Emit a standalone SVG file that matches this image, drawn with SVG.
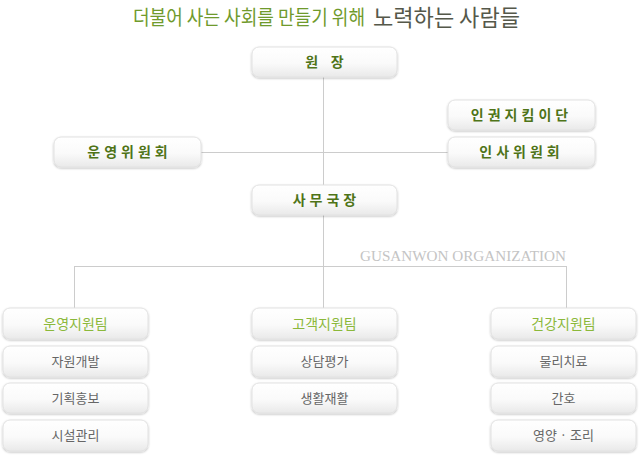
<svg xmlns="http://www.w3.org/2000/svg" width="640" height="457" viewBox="0 0 640 457">
<defs>
<linearGradient id="g" x1="0" y1="0" x2="0" y2="1">
<stop offset="0" stop-color="#ffffff"/>
<stop offset="0.55" stop-color="#fafafa"/>
<stop offset="1" stop-color="#e9e9e9"/>
</linearGradient>
<filter id="sh" x="-10%" y="-20%" width="120%" height="150%">
<feGaussianBlur in="SourceAlpha" stdDeviation="1.2"/>
<feOffset dx="0" dy="1" result="b"/>
<feComponentTransfer><feFuncA type="linear" slope="0.25"/></feComponentTransfer>
<feMerge><feMergeNode/><feMergeNode in="SourceGraphic"/></feMerge>
</filter>
</defs>
<style>
.box{fill:url(#g);stroke:#e2e2e2;stroke-width:1;filter:url(#sh)}
.t1{font-family:"Noto Sans CJK KR","Noto Sans",sans-serif;font-size:14px;font-weight:bold;fill:#4f7418;text-anchor:middle}
.t2{font-family:"Noto Sans CJK KR","Noto Sans",sans-serif;font-size:14px;fill:#8bb83a;text-anchor:middle}
.t3{font-family:"Noto Sans CJK KR","Noto Sans",sans-serif;font-size:13px;fill:#666666;text-anchor:middle}
.ln{stroke:#cccccc;stroke-width:1;fill:none}
</style>
<rect width="640" height="457" fill="#ffffff"/>
<g id="title">
<text x="133" y="25" font-family="'Noto Sans CJK KR',sans-serif" font-size="20" fill="#6f9a2c" textLength="232" lengthAdjust="spacingAndGlyphs">더불어 사는 사회를 만들기 위해</text>
<text x="373" y="26" font-family="'Noto Sans CJK KR',sans-serif" font-size="23" fill="#55584a" textLength="147" lengthAdjust="spacingAndGlyphs">노력하는 사람들</text>
</g>
<g id="connectors">
<line class="ln" x1="323.5" y1="77" x2="323.5" y2="185"/>
<line class="ln" x1="201" y1="152.5" x2="448" y2="152.5"/>
<line class="ln" x1="323.5" y1="215" x2="323.5" y2="308"/>
<line class="ln" x1="74.5" y1="266.5" x2="566.5" y2="266.5"/>
<line class="ln" x1="74.5" y1="266" x2="74.5" y2="308"/>
<line class="ln" x1="566.5" y1="266" x2="566.5" y2="308"/>
</g>
<text id="org" x="360" y="261" font-family="'Liberation Serif',serif" font-size="15" fill="#c4c4c4" textLength="206" lengthAdjust="spacingAndGlyphs">GUSANWON ORGANIZATION</text>
<g id="n-director"><rect class="box" x="252" y="47" width="145" height="30" rx="7"/><text class="t1" x="324.5" y="67" xml:space="preserve">원    장</text></g>
<g id="n-rights"><rect class="box" x="448" y="100" width="147" height="30" rx="7"/><text class="t1" x="521.5" y="120" letter-spacing="4">인권지킴이단</text></g>
<g id="n-personnel"><rect class="box" x="448" y="137" width="147" height="30" rx="7"/><text class="t1" x="521.5" y="157" letter-spacing="4">인사위원회</text></g>
<g id="n-operation"><rect class="box" x="54" y="137" width="147" height="30" rx="7"/><text class="t1" x="129.5" y="157" letter-spacing="4">운영위원회</text></g>
<g id="n-secretary"><rect class="box" x="252" y="185" width="145" height="30" rx="7"/><text class="t1" x="326.5" y="205" letter-spacing="4">사무국장</text></g>
<g id="n-team1"><rect class="box" x="3" y="308" width="145" height="31" rx="7"/><text class="t2" x="75.5" y="329">운영지원팀</text></g>
<g id="n-t1a"><rect class="box" x="3" y="346" width="145" height="31" rx="7"/><text class="t3" x="75.5" y="366">자원개발</text></g>
<g id="n-t1b"><rect class="box" x="3" y="383" width="145" height="30" rx="7"/><text class="t3" x="75.5" y="403">기획홍보</text></g>
<g id="n-t1c"><rect class="box" x="3" y="420" width="145" height="31" rx="7"/><text class="t3" x="75.5" y="440">시설관리</text></g>
<g id="n-team2"><rect class="box" x="252" y="308" width="145" height="31" rx="7"/><text class="t2" x="324.5" y="329">고객지원팀</text></g>
<g id="n-t2a"><rect class="box" x="252" y="346" width="145" height="31" rx="7"/><text class="t3" x="324.5" y="366">상담평가</text></g>
<g id="n-t2b"><rect class="box" x="252" y="383" width="145" height="30" rx="7"/><text class="t3" x="324.5" y="403">생활재활</text></g>
<g id="n-team3"><rect class="box" x="491" y="308" width="145" height="31" rx="7"/><text class="t2" x="563.5" y="329">건강지원팀</text></g>
<g id="n-t3a"><rect class="box" x="491" y="346" width="145" height="31" rx="7"/><text class="t3" x="563.5" y="366">물리치료</text></g>
<g id="n-t3b"><rect class="box" x="491" y="383" width="145" height="30" rx="7"/><text class="t3" x="563.5" y="403">간호</text></g>
<g id="n-t3c"><rect class="box" x="491" y="420" width="145" height="31" rx="7"/><text class="t3" x="563.5" y="440">영양 · 조리</text></g>
</svg>
